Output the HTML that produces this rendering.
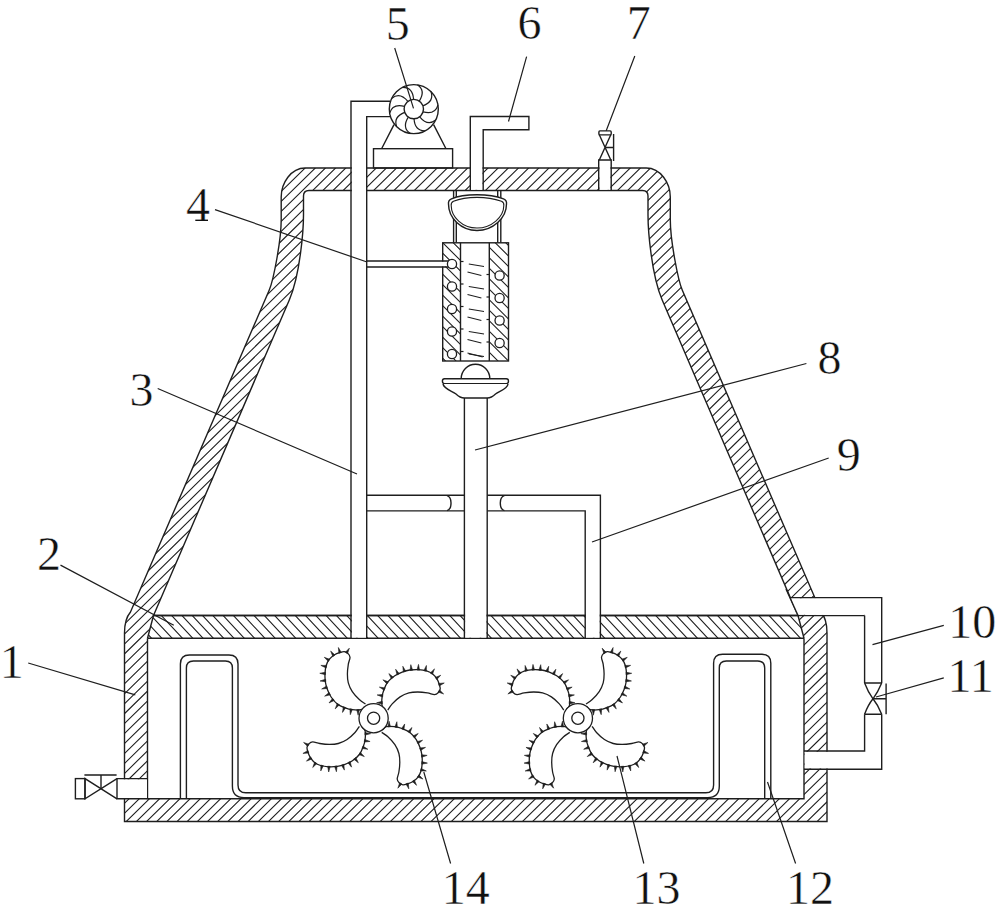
<!DOCTYPE html>
<html><head><meta charset="utf-8"><style>
html,body{margin:0;padding:0;background:#fff;}
svg{display:block;font-family:"Liberation Serif",serif;}
</style></head><body>
<svg width="1000" height="909" viewBox="0 0 1000 909">
<rect width="1000" height="909" fill="#fff"/>
<defs>
<clipPath id="cOut"><path d="M124.5,821.5 L124.5,633 Q124.5,619 130.5,612 L269.27,290 C273.56,280 281.2,240 281.2,220 L281.2,197 C281.2,183 291,168 305.2,168 L646.3,168 C660.5,168 670.3,183 670.3,197 L670.3,220 C670.3,240 677.94,280 682.23,290 L821,612 Q827,619 827,633 L827,821.5 Z"/></clipPath>
<clipPath id="cPart"><path d="M153.5,615.5 L798,615.5 L804,638.3 L147.5,638.3 Z"/></clipPath>
<clipPath id="cHL"><rect x="442.7" y="242.8" width="17.8" height="118.2"/></clipPath>
<clipPath id="cHR"><rect x="489.3" y="242.8" width="19.2" height="118.2"/></clipPath>
</defs>
<path clip-path="url(#cOut)" d="M99.94,160.00L-583.46,830.00M110.10,160.00L-573.30,830.00M120.26,160.00L-563.14,830.00M130.42,160.00L-552.98,830.00M140.58,160.00L-542.82,830.00M150.74,160.00L-532.66,830.00M160.90,160.00L-522.50,830.00M171.06,160.00L-512.34,830.00M181.22,160.00L-502.18,830.00M191.38,160.00L-492.02,830.00M201.54,160.00L-481.86,830.00M211.70,160.00L-471.70,830.00M221.86,160.00L-461.54,830.00M232.02,160.00L-451.38,830.00M242.18,160.00L-441.22,830.00M252.34,160.00L-431.06,830.00M262.50,160.00L-420.90,830.00M272.66,160.00L-410.74,830.00M282.82,160.00L-400.58,830.00M292.98,160.00L-390.42,830.00M303.14,160.00L-380.26,830.00M313.30,160.00L-370.10,830.00M323.46,160.00L-359.94,830.00M333.62,160.00L-349.78,830.00M343.78,160.00L-339.62,830.00M353.94,160.00L-329.46,830.00M364.10,160.00L-319.30,830.00M374.26,160.00L-309.14,830.00M384.42,160.00L-298.98,830.00M394.58,160.00L-288.82,830.00M404.74,160.00L-278.66,830.00M414.90,160.00L-268.50,830.00M425.06,160.00L-258.34,830.00M435.22,160.00L-248.18,830.00M445.38,160.00L-238.02,830.00M455.54,160.00L-227.86,830.00M465.70,160.00L-217.70,830.00M475.86,160.00L-207.54,830.00M486.02,160.00L-197.38,830.00M496.18,160.00L-187.22,830.00M506.34,160.00L-177.06,830.00M516.50,160.00L-166.90,830.00M526.66,160.00L-156.74,830.00M536.82,160.00L-146.58,830.00M546.98,160.00L-136.42,830.00M557.14,160.00L-126.26,830.00M567.30,160.00L-116.10,830.00M577.46,160.00L-105.94,830.00M587.62,160.00L-95.78,830.00M597.78,160.00L-85.62,830.00M607.94,160.00L-75.46,830.00M618.10,160.00L-65.30,830.00M628.26,160.00L-55.14,830.00M638.42,160.00L-44.98,830.00M648.58,160.00L-34.82,830.00M658.74,160.00L-24.66,830.00M668.90,160.00L-14.50,830.00M679.06,160.00L-4.34,830.00M689.22,160.00L5.82,830.00M699.38,160.00L15.98,830.00M709.54,160.00L26.14,830.00M719.70,160.00L36.30,830.00M729.86,160.00L46.46,830.00M740.02,160.00L56.62,830.00M750.18,160.00L66.78,830.00M760.34,160.00L76.94,830.00M770.50,160.00L87.10,830.00M780.66,160.00L97.26,830.00M790.82,160.00L107.42,830.00M800.98,160.00L117.58,830.00M811.14,160.00L127.74,830.00M821.30,160.00L137.90,830.00M831.46,160.00L148.06,830.00M841.62,160.00L158.22,830.00M851.78,160.00L168.38,830.00M861.94,160.00L178.54,830.00M872.10,160.00L188.70,830.00M882.26,160.00L198.86,830.00M892.42,160.00L209.02,830.00M902.58,160.00L219.18,830.00M912.74,160.00L229.34,830.00M922.90,160.00L239.50,830.00M933.06,160.00L249.66,830.00M943.22,160.00L259.82,830.00M953.38,160.00L269.98,830.00M963.54,160.00L280.14,830.00M973.70,160.00L290.30,830.00M983.86,160.00L300.46,830.00M994.02,160.00L310.62,830.00M1004.18,160.00L320.78,830.00M1014.34,160.00L330.94,830.00M1024.50,160.00L341.10,830.00M1034.66,160.00L351.26,830.00M1044.82,160.00L361.42,830.00M1054.98,160.00L371.58,830.00M1065.14,160.00L381.74,830.00M1075.30,160.00L391.90,830.00M1085.46,160.00L402.06,830.00M1095.62,160.00L412.22,830.00M1105.78,160.00L422.38,830.00M1115.94,160.00L432.54,830.00M1126.10,160.00L442.70,830.00M1136.26,160.00L452.86,830.00M1146.42,160.00L463.02,830.00M1156.58,160.00L473.18,830.00M1166.74,160.00L483.34,830.00M1176.90,160.00L493.50,830.00M1187.06,160.00L503.66,830.00M1197.22,160.00L513.82,830.00M1207.38,160.00L523.98,830.00M1217.54,160.00L534.14,830.00M1227.70,160.00L544.30,830.00M1237.86,160.00L554.46,830.00M1248.02,160.00L564.62,830.00M1258.18,160.00L574.78,830.00M1268.34,160.00L584.94,830.00M1278.50,160.00L595.10,830.00M1288.66,160.00L605.26,830.00M1298.82,160.00L615.42,830.00M1308.98,160.00L625.58,830.00M1319.14,160.00L635.74,830.00M1329.30,160.00L645.90,830.00M1339.46,160.00L656.06,830.00M1349.62,160.00L666.22,830.00M1359.78,160.00L676.38,830.00M1369.94,160.00L686.54,830.00M1380.10,160.00L696.70,830.00M1390.26,160.00L706.86,830.00M1400.42,160.00L717.02,830.00M1410.58,160.00L727.18,830.00M1420.74,160.00L737.34,830.00M1430.90,160.00L747.50,830.00M1441.06,160.00L757.66,830.00M1451.22,160.00L767.82,830.00M1461.38,160.00L777.98,830.00M1471.54,160.00L788.14,830.00M1481.70,160.00L798.30,830.00M1491.86,160.00L808.46,830.00M1502.02,160.00L818.62,830.00M1512.18,160.00L828.78,830.00M1522.34,160.00L838.94,830.00M1532.50,160.00L849.10,830.00M1542.66,160.00L859.26,830.00" stroke="#1e1e1e" stroke-width="1.1" fill="none"/>
<path d="M153.5,615.5 L289.3,300 C300.1,275 303.5,230 303.5,215 L303.5,196 Q303.5,190.5 309,190.5 L642.5,190.5 Q648,190.5 648,196 L648,215 C648,230 651.4,275 662.2,300 L798,615.5 Z" fill="#fff"/>
<rect x="147.5" y="638.3" width="656.5" height="160.5" fill="#fff"/>
<path d="M153.5,615.5 L798,615.5 L804,638.3 L147.5,638.3 Z" fill="#fff"/>
<path clip-path="url(#cPart)" d="M104.70,610.00L137.25,645.00M115.00,610.00L147.55,645.00M125.30,610.00L157.85,645.00M135.60,610.00L168.15,645.00M145.90,610.00L178.45,645.00M156.20,610.00L188.75,645.00M166.50,610.00L199.05,645.00M176.80,610.00L209.35,645.00M187.10,610.00L219.65,645.00M197.40,610.00L229.95,645.00M207.70,610.00L240.25,645.00M218.00,610.00L250.55,645.00M228.30,610.00L260.85,645.00M238.60,610.00L271.15,645.00M248.90,610.00L281.45,645.00M259.20,610.00L291.75,645.00M269.50,610.00L302.05,645.00M279.80,610.00L312.35,645.00M290.10,610.00L322.65,645.00M300.40,610.00L332.95,645.00M310.70,610.00L343.25,645.00M321.00,610.00L353.55,645.00M331.30,610.00L363.85,645.00M341.60,610.00L374.15,645.00M351.90,610.00L384.45,645.00M362.20,610.00L394.75,645.00M372.50,610.00L405.05,645.00M382.80,610.00L415.35,645.00M393.10,610.00L425.65,645.00M403.40,610.00L435.95,645.00M413.70,610.00L446.25,645.00M424.00,610.00L456.55,645.00M434.30,610.00L466.85,645.00M444.60,610.00L477.15,645.00M454.90,610.00L487.45,645.00M465.20,610.00L497.75,645.00M475.50,610.00L508.05,645.00M485.80,610.00L518.35,645.00M496.10,610.00L528.65,645.00M506.40,610.00L538.95,645.00M516.70,610.00L549.25,645.00M527.00,610.00L559.55,645.00M537.30,610.00L569.85,645.00M547.60,610.00L580.15,645.00M557.90,610.00L590.45,645.00M568.20,610.00L600.75,645.00M578.50,610.00L611.05,645.00M588.80,610.00L621.35,645.00M599.10,610.00L631.65,645.00M609.40,610.00L641.95,645.00M619.70,610.00L652.25,645.00M630.00,610.00L662.55,645.00M640.30,610.00L672.85,645.00M650.60,610.00L683.15,645.00M660.90,610.00L693.45,645.00M671.20,610.00L703.75,645.00M681.50,610.00L714.05,645.00M691.80,610.00L724.35,645.00M702.10,610.00L734.65,645.00M712.40,610.00L744.95,645.00M722.70,610.00L755.25,645.00M733.00,610.00L765.55,645.00M743.30,610.00L775.85,645.00M753.60,610.00L786.15,645.00M763.90,610.00L796.45,645.00M774.20,610.00L806.75,645.00M784.50,610.00L817.05,645.00M794.80,610.00L827.35,645.00M805.10,610.00L837.65,645.00M815.40,610.00L847.95,645.00" stroke="#1e1e1e" stroke-width="1.1" fill="none"/>
<g fill="none" stroke="#1e1e1e" stroke-width="1.4">
<path d="M124.5,821.5 L124.5,633 Q124.5,619 130.5,612 L269.27,290 C273.56,280 281.2,240 281.2,220 L281.2,197 C281.2,183 291,168 305.2,168 L646.3,168 C660.5,168 670.3,183 670.3,197 L670.3,220 C670.3,240 677.94,280 682.23,290 L821,612 Q827,619 827,633 L827,821.5 Z"/>
<path d="M153.5,615.5 L289.3,300 C300.1,275 303.5,230 303.5,215 L303.5,196 Q303.5,190.5 309,190.5 L642.5,190.5 Q648,190.5 648,196 L648,215 C648,230 651.4,275 662.2,300 L798,615.5 Z"/>
<path d="M147.5,638.3 L147.5,798.8 L804,798.8 L804,638.3"/>
<path d="M153.5,615.5 L864.6,615.5 M147.5,638.3 L804,638.3 M798,615.5 L804,638.3 M153.5,615.5 L147.5,638.3"/>
</g>
<rect x="351.8" y="166" width="14.199999999999989" height="26" fill="#fff"/><rect x="351.8" y="614" width="14.199999999999989" height="23.600000000000023" fill="#fff"/><rect x="471.0" y="166" width="11.5" height="23.80000000000001" fill="#fff"/><rect x="599.4" y="158" width="11.100000000000023" height="31.80000000000001" fill="#fff"/><rect x="465.1" y="614" width="21.399999999999977" height="23.600000000000023" fill="#fff"/><rect x="585.7" y="614" width="14.0" height="23.600000000000023" fill="#fff"/><rect x="116" y="779.3" width="31" height="18.800000000000068" fill="#fff"/><path d="M790.9,598.3 L863.9,598.3 L863.9,614.8 L797,614.8 Z" fill="#fff"/><rect x="805" y="598.3" width="59" height="16.5" fill="#fff"/><rect x="804.7" y="751.7" width="23.299999999999955" height="16.799999999999955" fill="#fff"/>
<path d="M786,589 L798,615.5" stroke="#1e1e1e" stroke-width="1.4" fill="none"/>
<g fill="none" stroke="#1e1e1e" stroke-width="1.4"><path d="M351,638.3 L351,101.2 L390,101.2 M366.7,638.3 L366.7,116.6 L390,116.6"/><path d="M366.7,495.2 L464.4,495.2 M366.7,510.9 L464.4,510.9 M487.2,495.2 L600.4,495.2 L600.4,638.3 M487.2,510.9 L585.2,510.9 L585.2,638.3"/><path d="M447,495.6 A4.8,7.6 0 0 1 447,510.6 M504.4,495.6 A4.9,7.6 0 0 0 504.4,510.6"/><path d="M464.4,398 L464.4,638.3 M487.2,398 L487.2,638.3"/><path d="M470.3,190.5 L470.3,116.5 L528.9,116.5 L528.9,129.7 L483.2,129.7 L483.2,190.5"/><path d="M598.7,190.5 L598.7,160 L611.2,160 L611.2,190.5"/><path d="M599.3,160 L610.8,134.8 M610.8,160 L599.3,134.8"/><rect x="598.9" y="130.9" width="12.3" height="4" rx="1"/><path d="M605.3,147.5 L613.6,147.5 M613.6,134 L613.6,161"/><rect x="373.5" y="148.7" width="79.1" height="19.3"/><path d="M394,124.6 L381.6,148.7 M433.6,124.6 L446,148.7"/></g>
<circle cx="413.8" cy="109.1" r="24.5" fill="#fff" stroke="#1e1e1e" stroke-width="1.4"/><circle cx="413.8" cy="109.1" r="9.7" fill="none" stroke="#1e1e1e" stroke-width="1.4"/><path d="M423.10,111.85Q435.05,114.99 437.96,105.06M419.70,116.80Q427.53,126.36 435.73,120.03M414.05,118.80Q414.76,131.13 425.11,130.83M408.31,117.09Q401.63,127.49 410.18,133.33M404.66,112.34Q393.15,116.82 396.63,126.57M404.50,106.35Q392.55,103.21 389.64,113.14M407.90,101.40Q400.07,91.84 391.87,98.17M413.55,99.40Q412.84,87.07 402.49,87.37M419.29,101.11Q425.97,90.71 417.42,84.87M422.94,105.86Q434.45,101.38 430.97,91.63" fill="none" stroke="#1e1e1e" stroke-width="1.2"/>
<g fill="none" stroke="#1e1e1e" stroke-width="1.4"><path d="M453.6,190.5 L453.6,242.8 M456.3,190.5 L456.3,242.8 M497.7,190.5 L497.7,242.8 M500.8,190.5 L500.8,242.8"/></g><path d="M451.5,198.8 C458,196 465,194.8 477,194.8 C489,194.8 496,196 503.5,198.8 Q507,200.3 506.5,204 C506.5,218 493,230.5 477,230.5 C461,230.5 448.5,218 448.5,204 Q448,200.3 451.5,198.8 Z" fill="#fff" stroke="#1e1e1e" stroke-width="1.4"/><path d="M453.5,201.3 C459.5,198.8 466,197.4 477,197.4 C488,197.4 494.5,198.8 501.5,201.3 Q504.3,202.5 503.8,205.5 C503.8,217 491.5,228 477,228 C462.5,228 451.2,217 451.2,205.5 Q450.8,202.5 453.5,201.3 Z" fill="none" stroke="#1e1e1e" stroke-width="1.1"/><rect x="442.7" y="242.8" width="65.8" height="118.2" fill="#fff"/><path clip-path="url(#cHL)" d="M314.00,240.00L439.00,365.00M324.50,240.00L449.50,365.00M335.00,240.00L460.00,365.00M345.50,240.00L470.50,365.00M356.00,240.00L481.00,365.00M366.50,240.00L491.50,365.00M377.00,240.00L502.00,365.00M387.50,240.00L512.50,365.00M398.00,240.00L523.00,365.00M408.50,240.00L533.50,365.00M419.00,240.00L544.00,365.00M429.50,240.00L554.50,365.00M440.00,240.00L565.00,365.00M450.50,240.00L575.50,365.00M461.00,240.00L586.00,365.00M471.50,240.00L596.50,365.00M482.00,240.00L607.00,365.00M492.50,240.00L617.50,365.00M503.00,240.00L628.00,365.00M513.50,240.00L638.50,365.00" stroke="#1e1e1e" stroke-width="1.1" fill="none"/><path clip-path="url(#cHR)" d="M314.00,240.00L439.00,365.00M324.50,240.00L449.50,365.00M335.00,240.00L460.00,365.00M345.50,240.00L470.50,365.00M356.00,240.00L481.00,365.00M366.50,240.00L491.50,365.00M377.00,240.00L502.00,365.00M387.50,240.00L512.50,365.00M398.00,240.00L523.00,365.00M408.50,240.00L533.50,365.00M419.00,240.00L544.00,365.00M429.50,240.00L554.50,365.00M440.00,240.00L565.00,365.00M450.50,240.00L575.50,365.00M461.00,240.00L586.00,365.00M471.50,240.00L596.50,365.00M482.00,240.00L607.00,365.00M492.50,240.00L617.50,365.00M503.00,240.00L628.00,365.00M513.50,240.00L638.50,365.00" stroke="#1e1e1e" stroke-width="1.1" fill="none"/><rect x="442.7" y="242.8" width="65.8" height="118.2" fill="none" stroke="#1e1e1e" stroke-width="1.4"/><path d="M460.5,242.8 L460.5,361 M489.3,242.8 L489.3,361" stroke="#1e1e1e" stroke-width="1.4"/><rect x="442" y="261.6" width="6" height="4.8" fill="#fff"/><path d="M366.7,261 L449,261 M366.7,267 L449,267" stroke="#1e1e1e" stroke-width="1.4"/><circle cx="452" cy="264" r="4.6" fill="#fff" stroke="#1e1e1e" stroke-width="1.3"/><path d="M460.5,261.5 L463.5,261.5" stroke="#1e1e1e" stroke-width="1.2"/><path d="M468.8,264 L484,266.5" stroke="#1e1e1e" stroke-width="1.05"/><circle cx="452" cy="286.5" r="4.6" fill="#fff" stroke="#1e1e1e" stroke-width="1.3"/><path d="M460.5,284.0 L463.5,284.0" stroke="#1e1e1e" stroke-width="1.2"/><path d="M468.8,286.5 L484,289.0" stroke="#1e1e1e" stroke-width="1.05"/><circle cx="452" cy="309" r="4.6" fill="#fff" stroke="#1e1e1e" stroke-width="1.3"/><path d="M460.5,306.5 L463.5,306.5" stroke="#1e1e1e" stroke-width="1.2"/><path d="M468.8,309 L484,311.5" stroke="#1e1e1e" stroke-width="1.05"/><circle cx="452" cy="331.5" r="4.6" fill="#fff" stroke="#1e1e1e" stroke-width="1.3"/><path d="M460.5,329.0 L463.5,329.0" stroke="#1e1e1e" stroke-width="1.2"/><path d="M468.8,331.5 L484,334.0" stroke="#1e1e1e" stroke-width="1.05"/><circle cx="452" cy="354" r="4.6" fill="#fff" stroke="#1e1e1e" stroke-width="1.3"/><path d="M460.5,351.5 L463.5,351.5" stroke="#1e1e1e" stroke-width="1.2"/><path d="M468.8,354 L484,356.5" stroke="#1e1e1e" stroke-width="1.05"/><circle cx="499.6" cy="275.5" r="4.6" fill="#fff" stroke="#1e1e1e" stroke-width="1.3"/><path d="M486.5,274.5 L489.3,274.5" stroke="#1e1e1e" stroke-width="1.2"/><path d="M467.5,272.0 L481.4,275.5" stroke="#1e1e1e" stroke-width="1.05"/><circle cx="499.6" cy="298" r="4.6" fill="#fff" stroke="#1e1e1e" stroke-width="1.3"/><path d="M486.5,297 L489.3,297" stroke="#1e1e1e" stroke-width="1.2"/><path d="M467.5,294.5 L481.4,298" stroke="#1e1e1e" stroke-width="1.05"/><circle cx="499.6" cy="320.5" r="4.6" fill="#fff" stroke="#1e1e1e" stroke-width="1.3"/><path d="M486.5,319.5 L489.3,319.5" stroke="#1e1e1e" stroke-width="1.2"/><path d="M467.5,317.0 L481.4,320.5" stroke="#1e1e1e" stroke-width="1.05"/><circle cx="499.6" cy="343" r="4.6" fill="#fff" stroke="#1e1e1e" stroke-width="1.3"/><path d="M486.5,342 L489.3,342" stroke="#1e1e1e" stroke-width="1.2"/><path d="M467.5,339.5 L481.4,343" stroke="#1e1e1e" stroke-width="1.05"/><path d="M467.5,353 L482.7,357" stroke="#1e1e1e" stroke-width="1.05"/><path d="M461.2,378.5 A14.3,14.3 0 0 1 489.8,378.5" fill="#fff" stroke="#1e1e1e" stroke-width="1.4"/><path d="M444.5,378.7 L506.3,378.7 Q508.5,378.7 508.5,381 Q508.5,383.6 506.3,383.6 L444.5,383.6 Q442.4,383.6 442.4,381 Q442.4,378.7 444.5,378.7 Z" fill="#fff" stroke="#1e1e1e" stroke-width="1.4"/><path d="M443,384 C444,389 452,391 456,394 C459,397 461,398 464.4,398 L487.2,398 C490.5,398 492.5,397 495.5,394 C499.5,391 507.5,389 508,384" fill="#fff" stroke="#1e1e1e" stroke-width="1.4"/>
<g fill="none" stroke="#1e1e1e" stroke-width="1.4"><path d="M147.5,778.6 L117,778.6 L117,798.8 L147.5,798.8"/><path d="M117,778.6 L85,798.8 L85,778.6 L117,798.8"/><rect x="75.4" y="778.6" width="9.6" height="20.2"/><path d="M101,788.7 L101,775 M84.4,775 L116.6,775"/></g>
<g fill="none" stroke="#1e1e1e" stroke-width="1.4"><path d="M790.9,597.6 L881.7,597.6 L881.7,683 M864.6,615.5 L864.6,683"/><path d="M864.6,683 L881.7,683 M864.6,714.2 L881.7,714.2"/><path d="M864.6,683 Q868,692 873,698.8 Q878,692 881.7,683 M864.6,714.2 Q868,705 873,698.8 Q878,705 881.7,714.2"/><path d="M873,698.8 L886.1,698.8 M886.1,683.4 L886.1,714.2"/><path d="M881.7,714.2 L881.7,769.2 L804,769.2 M864.6,714.2 L864.6,751 L804,751"/></g>
<g fill="none" stroke="#1e1e1e" stroke-width="1.4"><path d="M180.4,798.8 L180.4,664 Q180.4,655 189.4,655 L229,655 Q238,655 238,664 L238,785 Q238,792.8 245.8,792.8 L705.8,792.8 Q713.6,792.8 713.6,785 L713.6,663.3 Q713.6,654.3 722.6,654.3 L761.8,654.3 Q770.8,654.3 770.8,663.3 L770.8,798.8"/><path d="M186.4,798.8 L186.4,668 Q186.4,661 193.4,661 L225.4,661 Q232.4,661 232.4,668 L232.4,786 Q232.4,797.6 244,797.6 L707.7,797.6 Q719.3,797.6 719.3,786 L719.3,668 Q719.3,661 726.3,661 L757.7,661 Q764.7,661 764.7,668 L764.7,798.8"/></g>
<path d="M365.50,704.00C364.47,703.27 361.50,701.65 359.30,699.60C357.10,697.55 354.13,694.48 352.30,691.70C350.47,688.92 349.12,685.85 348.30,682.90C347.48,679.95 347.40,677.08 347.40,674.00C347.40,670.92 347.87,667.18 348.30,664.40C348.73,661.62 350.07,659.13 350.00,657.30C349.93,655.47 348.85,654.35 347.90,653.40C346.95,652.45 345.63,651.75 344.30,651.60C342.97,651.45 341.52,651.98 339.90,652.50C338.28,653.02 336.35,653.60 334.60,654.70C332.85,655.80 330.78,657.35 329.40,659.10C328.02,660.85 327.03,662.85 326.30,665.20C325.57,667.55 325.15,670.40 325.00,673.20C324.85,676.00 325.03,679.37 325.40,682.00C325.77,684.63 326.25,686.50 327.20,689.00C328.15,691.50 329.42,694.50 331.10,697.00C332.78,699.50 334.95,702.18 337.30,704.00C339.65,705.82 342.70,706.95 345.20,707.90C347.70,708.85 349.67,709.40 352.30,709.70C354.93,710.00 358.95,710.22 361.00,709.70C363.05,709.18 364.00,707.12 364.60,706.60M387.80,710.10C388.53,709.07 390.15,706.10 392.20,703.90C394.25,701.70 397.32,698.73 400.10,696.90C402.88,695.07 405.95,693.72 408.90,692.90C411.85,692.08 414.72,692.00 417.80,692.00C420.88,692.00 424.62,692.47 427.40,692.90C430.18,693.33 432.67,694.67 434.50,694.60C436.33,694.53 437.45,693.45 438.40,692.50C439.35,691.55 440.05,690.23 440.20,688.90C440.35,687.57 439.82,686.12 439.30,684.50C438.78,682.88 438.20,680.95 437.10,679.20C436.00,677.45 434.45,675.38 432.70,674.00C430.95,672.62 428.95,671.63 426.60,670.90C424.25,670.17 421.40,669.75 418.60,669.60C415.80,669.45 412.43,669.63 409.80,670.00C407.17,670.37 405.30,670.85 402.80,671.80C400.30,672.75 397.30,674.02 394.80,675.70C392.30,677.38 389.62,679.55 387.80,681.90C385.98,684.25 384.85,687.30 383.90,689.80C382.95,692.30 382.40,694.27 382.10,696.90C381.80,699.53 381.58,703.55 382.10,705.60C382.62,707.65 384.68,708.60 385.20,709.20M381.70,732.40C382.73,733.13 385.70,734.75 387.90,736.80C390.10,738.85 393.07,741.92 394.90,744.70C396.73,747.48 398.08,750.55 398.90,753.50C399.72,756.45 399.80,759.32 399.80,762.40C399.80,765.48 399.33,769.22 398.90,772.00C398.47,774.78 397.13,777.27 397.20,779.10C397.27,780.93 398.35,782.05 399.30,783.00C400.25,783.95 401.57,784.65 402.90,784.80C404.23,784.95 405.68,784.42 407.30,783.90C408.92,783.38 410.85,782.80 412.60,781.70C414.35,780.60 416.42,779.05 417.80,777.30C419.18,775.55 420.17,773.55 420.90,771.20C421.63,768.85 422.05,766.00 422.20,763.20C422.35,760.40 422.17,757.03 421.80,754.40C421.43,751.77 420.95,749.90 420.00,747.40C419.05,744.90 417.78,741.90 416.10,739.40C414.42,736.90 412.25,734.22 409.90,732.40C407.55,730.58 404.50,729.45 402.00,728.50C399.50,727.55 397.53,727.00 394.90,726.70C392.27,726.40 388.25,726.18 386.20,726.70C384.15,727.22 383.20,729.28 382.60,729.80M359.40,726.30C358.67,727.33 357.05,730.30 355.00,732.50C352.95,734.70 349.88,737.67 347.10,739.50C344.32,741.33 341.25,742.68 338.30,743.50C335.35,744.32 332.48,744.40 329.40,744.40C326.32,744.40 322.58,743.93 319.80,743.50C317.02,743.07 314.53,741.73 312.70,741.80C310.87,741.87 309.75,742.95 308.80,743.90C307.85,744.85 307.15,746.17 307.00,747.50C306.85,748.83 307.38,750.28 307.90,751.90C308.42,753.52 309.00,755.45 310.10,757.20C311.20,758.95 312.75,761.02 314.50,762.40C316.25,763.78 318.25,764.77 320.60,765.50C322.95,766.23 325.80,766.65 328.60,766.80C331.40,766.95 334.77,766.77 337.40,766.40C340.03,766.03 341.90,765.55 344.40,764.60C346.90,763.65 349.90,762.38 352.40,760.70C354.90,759.02 357.58,756.85 359.40,754.50C361.22,752.15 362.35,749.10 363.30,746.60C364.25,744.10 364.80,742.13 365.10,739.50C365.40,736.87 365.62,732.85 365.10,730.80C364.58,728.75 362.52,727.80 362.00,727.20" fill="#fff" stroke="#1e1e1e" stroke-width="1.3"/><path d="M347.48,653.71L349.35,648.17L345.26,652.35ZM341.37,652.55L338.38,647.53L338.89,653.35ZM334.98,655.01L330.66,651.07L332.84,656.49ZM329.76,659.36L324.28,657.31L328.33,661.53ZM326.71,665.44L320.86,665.38L326.10,667.97ZM325.54,672.24L319.79,673.29L325.43,674.84ZM325.59,679.16L320.05,681.01L325.85,681.75ZM326.67,685.96L321.68,689.00L327.50,688.42ZM329.13,692.43L324.63,696.17L330.31,694.75ZM332.64,698.36L329.01,702.95L334.27,700.39ZM337.26,703.41L335.20,708.89L339.43,704.85ZM343.32,706.65L342.50,712.43L345.75,707.58ZM349.85,708.85L350.31,714.68L352.42,709.23ZM356.73,709.53L358.14,715.20L359.33,709.48ZM438.09,692.08L443.63,693.95L439.45,689.86ZM439.25,685.97L444.27,682.98L438.45,683.49ZM436.79,679.58L440.73,675.26L435.31,677.44ZM432.44,674.36L434.49,668.88L430.27,672.93ZM426.36,671.31L426.42,665.46L423.83,670.70ZM419.56,670.14L418.51,664.39L416.96,670.03ZM412.64,670.19L410.79,664.65L410.05,670.45ZM405.84,671.27L402.80,666.28L403.38,672.10ZM399.37,673.73L395.63,669.23L397.05,674.91ZM393.44,677.24L388.85,673.61L391.41,678.87ZM388.39,681.86L382.91,679.80L386.95,684.03ZM385.15,687.92L379.37,687.10L384.22,690.35ZM382.95,694.45L377.12,694.91L382.57,697.02ZM382.27,701.33L376.60,702.74L382.32,703.93ZM399.72,782.69L397.85,788.23L401.94,784.05ZM405.83,783.85L408.82,788.87L408.31,783.05ZM412.22,781.39L416.54,785.33L414.36,779.91ZM417.44,777.04L422.92,779.09L418.87,774.87ZM420.49,770.96L426.34,771.02L421.10,768.43ZM421.66,764.16L427.41,763.11L421.77,761.56ZM421.61,757.24L427.15,755.39L421.35,754.65ZM420.53,750.44L425.52,747.40L419.70,747.98ZM418.07,743.97L422.57,740.23L416.89,741.65ZM414.56,738.04L418.19,733.45L412.93,736.01ZM409.94,732.99L412.00,727.51L407.77,731.55ZM403.88,729.75L404.70,723.97L401.45,728.82ZM397.35,727.55L396.89,721.72L394.78,727.17ZM390.47,726.87L389.06,721.20L387.87,726.92ZM309.11,744.32L303.57,742.45L307.75,746.54ZM307.95,750.43L302.93,753.42L308.75,752.91ZM310.41,756.82L306.47,761.14L311.89,758.96ZM314.76,762.04L312.71,767.52L316.93,763.47ZM320.84,765.09L320.78,770.94L323.37,765.70ZM327.64,766.26L328.69,772.01L330.24,766.37ZM334.56,766.21L336.41,771.75L337.15,765.95ZM341.36,765.13L344.40,770.12L343.82,764.30ZM347.83,762.67L351.57,767.17L350.15,761.49ZM353.76,759.16L358.35,762.79L355.79,757.53ZM358.81,754.54L364.29,756.60L360.25,752.37ZM362.05,748.48L367.83,749.30L362.98,746.05ZM364.25,741.95L370.08,741.49L364.63,739.38ZM364.93,735.07L370.60,733.66L364.88,732.47Z" stroke="#1e1e1e" stroke-width="0.6" fill="#1e1e1e"/><circle cx="373.6" cy="718.2" r="14.6" fill="#fff" stroke="#1e1e1e" stroke-width="1.3"/><circle cx="373.6" cy="718.2" r="6.1" fill="none" stroke="#1e1e1e" stroke-width="1.3"/>
<path d="M586.00,704.00C587.03,703.27 590.00,701.65 592.20,699.60C594.40,697.55 597.37,694.48 599.20,691.70C601.03,688.92 602.38,685.85 603.20,682.90C604.02,679.95 604.10,677.08 604.10,674.00C604.10,670.92 603.63,667.18 603.20,664.40C602.77,661.62 601.43,659.13 601.50,657.30C601.57,655.47 602.65,654.35 603.60,653.40C604.55,652.45 605.87,651.75 607.20,651.60C608.53,651.45 609.98,651.98 611.60,652.50C613.22,653.02 615.15,653.60 616.90,654.70C618.65,655.80 620.72,657.35 622.10,659.10C623.48,660.85 624.47,662.85 625.20,665.20C625.93,667.55 626.35,670.40 626.50,673.20C626.65,676.00 626.47,679.37 626.10,682.00C625.73,684.63 625.25,686.50 624.30,689.00C623.35,691.50 622.08,694.50 620.40,697.00C618.72,699.50 616.55,702.18 614.20,704.00C611.85,705.82 608.80,706.95 606.30,707.90C603.80,708.85 601.83,709.40 599.20,709.70C596.57,710.00 592.55,710.22 590.50,709.70C588.45,709.18 587.50,707.12 586.90,706.60M563.70,710.10C562.97,709.07 561.35,706.10 559.30,703.90C557.25,701.70 554.18,698.73 551.40,696.90C548.62,695.07 545.55,693.72 542.60,692.90C539.65,692.08 536.78,692.00 533.70,692.00C530.62,692.00 526.88,692.47 524.10,692.90C521.32,693.33 518.83,694.67 517.00,694.60C515.17,694.53 514.05,693.45 513.10,692.50C512.15,691.55 511.45,690.23 511.30,688.90C511.15,687.57 511.68,686.12 512.20,684.50C512.72,682.88 513.30,680.95 514.40,679.20C515.50,677.45 517.05,675.38 518.80,674.00C520.55,672.62 522.55,671.63 524.90,670.90C527.25,670.17 530.10,669.75 532.90,669.60C535.70,669.45 539.07,669.63 541.70,670.00C544.33,670.37 546.20,670.85 548.70,671.80C551.20,672.75 554.20,674.02 556.70,675.70C559.20,677.38 561.88,679.55 563.70,681.90C565.52,684.25 566.65,687.30 567.60,689.80C568.55,692.30 569.10,694.27 569.40,696.90C569.70,699.53 569.92,703.55 569.40,705.60C568.88,707.65 566.82,708.60 566.30,709.20M569.80,732.40C568.77,733.13 565.80,734.75 563.60,736.80C561.40,738.85 558.43,741.92 556.60,744.70C554.77,747.48 553.42,750.55 552.60,753.50C551.78,756.45 551.70,759.32 551.70,762.40C551.70,765.48 552.17,769.22 552.60,772.00C553.03,774.78 554.37,777.27 554.30,779.10C554.23,780.93 553.15,782.05 552.20,783.00C551.25,783.95 549.93,784.65 548.60,784.80C547.27,784.95 545.82,784.42 544.20,783.90C542.58,783.38 540.65,782.80 538.90,781.70C537.15,780.60 535.08,779.05 533.70,777.30C532.32,775.55 531.33,773.55 530.60,771.20C529.87,768.85 529.45,766.00 529.30,763.20C529.15,760.40 529.33,757.03 529.70,754.40C530.07,751.77 530.55,749.90 531.50,747.40C532.45,744.90 533.72,741.90 535.40,739.40C537.08,736.90 539.25,734.22 541.60,732.40C543.95,730.58 547.00,729.45 549.50,728.50C552.00,727.55 553.97,727.00 556.60,726.70C559.23,726.40 563.25,726.18 565.30,726.70C567.35,727.22 568.30,729.28 568.90,729.80M592.10,726.30C592.83,727.33 594.45,730.30 596.50,732.50C598.55,734.70 601.62,737.67 604.40,739.50C607.18,741.33 610.25,742.68 613.20,743.50C616.15,744.32 619.02,744.40 622.10,744.40C625.18,744.40 628.92,743.93 631.70,743.50C634.48,743.07 636.97,741.73 638.80,741.80C640.63,741.87 641.75,742.95 642.70,743.90C643.65,744.85 644.35,746.17 644.50,747.50C644.65,748.83 644.12,750.28 643.60,751.90C643.08,753.52 642.50,755.45 641.40,757.20C640.30,758.95 638.75,761.02 637.00,762.40C635.25,763.78 633.25,764.77 630.90,765.50C628.55,766.23 625.70,766.65 622.90,766.80C620.10,766.95 616.73,766.77 614.10,766.40C611.47,766.03 609.60,765.55 607.10,764.60C604.60,763.65 601.60,762.38 599.10,760.70C596.60,759.02 593.92,756.85 592.10,754.50C590.28,752.15 589.15,749.10 588.20,746.60C587.25,744.10 586.70,742.13 586.40,739.50C586.10,736.87 585.88,732.85 586.40,730.80C586.92,728.75 588.98,727.80 589.50,727.20" fill="#fff" stroke="#1e1e1e" stroke-width="1.3"/><path d="M606.24,652.35L602.15,648.17L604.02,653.71ZM612.61,653.35L613.12,647.53L610.13,652.55ZM618.66,656.49L620.84,651.07L616.52,655.01ZM623.17,661.53L627.22,657.31L621.74,659.36ZM625.40,667.97L630.64,665.38L624.79,665.44ZM626.07,674.84L631.71,673.29L625.96,672.24ZM625.65,681.75L631.45,681.01L625.91,679.16ZM624.00,688.42L629.82,689.00L624.83,685.96ZM621.19,694.75L626.87,696.17L622.37,692.43ZM617.23,700.39L622.49,702.95L618.86,698.36ZM612.07,704.85L616.30,708.89L614.24,703.41ZM605.75,707.58L609.00,712.43L608.18,706.65ZM599.08,709.23L601.19,714.68L601.65,708.85ZM592.17,709.48L593.36,715.20L594.77,709.53ZM512.05,689.86L507.87,693.95L513.41,692.08ZM513.05,683.49L507.23,682.98L512.25,685.97ZM516.19,677.44L510.77,675.26L514.71,679.58ZM521.23,672.93L517.01,668.88L519.06,674.36ZM527.67,670.70L525.08,665.46L525.14,671.31ZM534.54,670.03L532.99,664.39L531.94,670.14ZM541.45,670.45L540.71,664.65L538.86,670.19ZM548.12,672.10L548.70,666.28L545.66,671.27ZM554.45,674.91L555.87,669.23L552.13,673.73ZM560.09,678.87L562.65,673.61L558.06,677.24ZM564.55,684.03L568.59,679.80L563.11,681.86ZM567.28,690.35L572.13,687.10L566.35,687.92ZM568.93,697.02L574.38,694.91L568.55,694.45ZM569.18,703.93L574.90,702.74L569.23,701.33ZM549.56,784.05L553.65,788.23L551.78,782.69ZM543.19,783.05L542.68,788.87L545.67,783.85ZM537.14,779.91L534.96,785.33L539.28,781.39ZM532.63,774.87L528.58,779.09L534.06,777.04ZM530.40,768.43L525.16,771.02L531.01,770.96ZM529.73,761.56L524.09,763.11L529.84,764.16ZM530.15,754.65L524.35,755.39L529.89,757.24ZM531.80,747.98L525.98,747.40L530.97,750.44ZM534.61,741.65L528.93,740.23L533.43,743.97ZM538.57,736.01L533.31,733.45L536.94,738.04ZM543.73,731.55L539.50,727.51L541.56,732.99ZM550.05,728.82L546.80,723.97L547.62,729.75ZM556.72,727.17L554.61,721.72L554.15,727.55ZM563.63,726.92L562.44,721.20L561.03,726.87ZM643.75,746.54L647.93,742.45L642.39,744.32ZM642.75,752.91L648.57,753.42L643.55,750.43ZM639.61,758.96L645.03,761.14L641.09,756.82ZM634.57,763.47L638.79,767.52L636.74,762.04ZM628.13,765.70L630.72,770.94L630.66,765.09ZM621.26,766.37L622.81,772.01L623.86,766.26ZM614.35,765.95L615.09,771.75L616.94,766.21ZM607.68,764.30L607.10,770.12L610.14,765.13ZM601.35,761.49L599.93,767.17L603.67,762.67ZM595.71,757.53L593.15,762.79L597.74,759.16ZM591.25,752.37L587.21,756.60L592.69,754.54ZM588.52,746.05L583.67,749.30L589.45,748.48ZM586.87,739.38L581.42,741.49L587.25,741.95ZM586.62,732.47L580.90,733.66L586.57,735.07Z" stroke="#1e1e1e" stroke-width="0.6" fill="#1e1e1e"/><circle cx="577.9" cy="718.2" r="14.6" fill="#fff" stroke="#1e1e1e" stroke-width="1.3"/><circle cx="577.9" cy="718.2" r="6.1" fill="none" stroke="#1e1e1e" stroke-width="1.3"/>
<path d="M28.2,663L135.3,694.9M60.5,565.1L173.8,625.2M157.7,388.5L357,474M215,209.6L367,262M394.7,48L413.5,108.4M526.6,56.6L508.5,121.5M634.8,56L606.2,130.8M806.4,363.5L475,450M828.7,458L592,542M943.8,625.4L872.5,644.7M943.8,677.8L876,697M795.6,863.5L767.5,782M643.8,863.5L617,756M450.6,863.5L423.8,772" stroke="#1e1e1e" stroke-width="1.2" fill="none"/>
<g font-family="Liberation Serif" font-size="48" fill="#111" stroke="#fff" stroke-width="0.45"><text x="-0.2" y="677.5">1</text><text x="36.9" y="570.1">2</text><text x="129.5" y="405.7">3</text><text x="186" y="221">4</text><text x="385.8" y="39.9">5</text><text x="517.5" y="39.2">6</text><text x="626.8" y="39">7</text><text x="817.4" y="373.8">8</text><text x="836.7" y="470.8">9</text><text x="948.3" y="638">10</text><text x="947.5" y="691.5">11</text><text x="786" y="903.5">12</text><text x="632.6" y="903.5">13</text><text x="441.7" y="903.5">14</text></g>
<path d="M195.3,220.3 L208,220.3" stroke="#111" stroke-width="1.4"/>
</svg></body></html>
